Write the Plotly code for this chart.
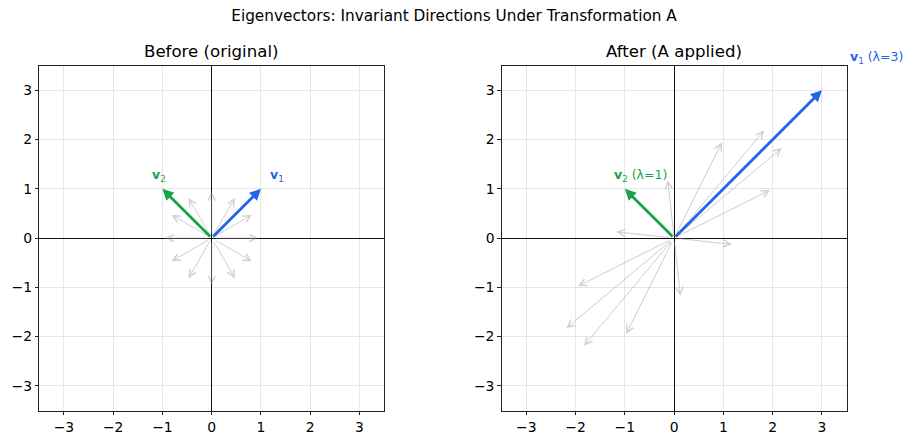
import numpy as np
import plotly.graph_objects as go

# Transformation and its eigen-pairs
A = np.array([[2.0, 1.0],
              [1.0, 2.0]])
v1 = [1.0, 1.0]
v2 = [-1.0, 1.0]
lam1 = 3
lam2 = 1

# Directions of the sample (unit) vectors, in degrees
sample_angles = [0, 30, 60, 90, 120, 150, 180, 210, 240, 270, 300, 330]

tick_vals = [-3, -2, -1, 0, 1, 2, 3]
axis_range = [-3.5, 3.5]

BLUE = "#2563eb"
GREEN = "#16a34a"
GRAY = "rgba(160,160,160,0.5)"
FONT = "DejaVu Sans"

W, H = 908, 434
panel_top, panel_bottom = 65.7, 410.5
left_panel = (39.3, 384.1)
right_panel = (501.7, 846.5)
px_per_unit = (left_panel[1] - left_panel[0]) / (axis_range[1] - axis_range[0])

fig = go.Figure()


def arrow(xref, yref, tail, head, color, width, headstyle, size, standoff=0):
    fig.add_annotation(
        x=head[0], y=head[1], ax=tail[0], ay=tail[1],
        xref=xref, yref=yref, axref=xref, ayref=yref,
        text="", showarrow=True, arrowhead=headstyle, arrowsize=size,
        arrowwidth=width, arrowcolor=color,
        standoff=standoff, startstandoff=standoff,
    )


angles = np.deg2rad(sample_angles)
units = np.column_stack([np.cos(angles), np.sin(angles)])
mapped = units @ A.T

# Sample vectors before and after the transformation
for u in units:
    arrow("x", "y", (0, 0), u, GRAY, 1.0, 5, 1.4, standoff=3)
for m in mapped:
    arrow("x2", "y2", (0, 0), m, GRAY, 1.0, 5, 1.4, standoff=3)

# Eigenvectors
Av1 = A @ np.array(v1)
Av2 = A @ np.array(v2)
arrow("x", "y", (0, 0), v1, BLUE, 2.8, 2, 0.8)
arrow("x", "y", (0, 0), v2, GREEN, 2.8, 2, 0.8)
arrow("x2", "y2", (0, 0), Av1, BLUE, 2.8, 2, 0.8)
arrow("x2", "y2", (0, 0), Av2, GREEN, 2.8, 2, 0.8)


# Eigenvector labels at 1.2x the arrow tip; anchors are kept inside the
# axis range and the remainder is applied as a pixel shift so that labels
# beyond the frame stay visible.
def label(xref, yref, pos, txt, color):
    lx, ly = 1.2 * pos[0], 1.2 * pos[1]
    ax_x = float(np.clip(lx, *axis_range))
    ax_y = float(np.clip(ly, *axis_range))
    fig.add_annotation(
        x=ax_x, y=ax_y, xref=xref, yref=yref,
        xshift=(lx - ax_x) * px_per_unit - 3,
        yshift=(ly - ax_y) * px_per_unit + 3,
        xanchor="left", yanchor="middle", showarrow=False, text=txt,
        font=dict(family=FONT, size=12.5, color=color),
    )

label("x", "y", v1, "<b>v</b><sub>1</sub>", BLUE)
label("x", "y", v2, "<b>v</b><sub>2</sub>", GREEN)
label("x2", "y2", Av1, f"<b>v</b><sub>1</sub> (λ={lam1})", BLUE)
label("x2", "y2", Av2, f"<b>v</b><sub>2</sub> (λ={lam2})", GREEN)

axis_common = dict(
    range=axis_range, tickvals=tick_vals, ticks="outside", ticklen=3.5,
    tickwidth=0.8, tickcolor="#222", showline=True, mirror=True,
    linecolor="#222", linewidth=0.9, showgrid=True, gridcolor="#e6e6e6",
    gridwidth=0.8, zeroline=True, zerolinecolor="#111", zerolinewidth=0.9,
    tickfont=dict(family=FONT, size=13.9, color="#000"), fixedrange=True,
)

ydom = [1 - panel_bottom / H, 1 - panel_top / H]
fig.update_layout(
    width=W, height=H, autosize=False,
    margin=dict(l=0, r=0, t=0, b=0),
    paper_bgcolor="white", plot_bgcolor="white",
    font=dict(family=FONT, color="#000"),
    title=dict(text="Eigenvectors: Invariant Directions Under Transformation A",
               x=0.5, xanchor="center", y=1 - 16 / H, yanchor="middle",
               font=dict(family=FONT, size=15.3, color="#000")),
    xaxis=dict(domain=[left_panel[0] / W, left_panel[1] / W], anchor="y", **axis_common),
    yaxis=dict(domain=ydom, anchor="x", **axis_common),
    xaxis2=dict(domain=[right_panel[0] / W, right_panel[1] / W], anchor="y2", **axis_common),
    yaxis2=dict(domain=ydom, anchor="x2", **axis_common),
    showlegend=False,
)

for xr, yr, t in [("x domain", "y domain", "Before (original)"),
                  ("x2 domain", "y2 domain", "After (A applied)")]:
    fig.add_annotation(x=0.5, y=1, xref=xr, yref=yr, xanchor="center",
                       yanchor="bottom", yshift=3, showarrow=False, text=t,
                       font=dict(family=FONT, size=16.6, color="#000"))

fig.write_html("out.html")
